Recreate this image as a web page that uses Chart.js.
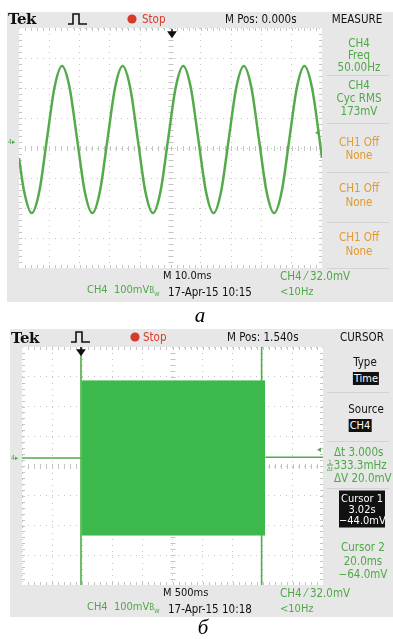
<!DOCTYPE html>
<html>
<head>
<meta charset="utf-8">
<script src="https://cdn.jsdelivr.net/npm/chart.js@4.4.1/dist/chart.umd.min.js"></script>
<style>
  body { margin: 0; width: 393px; height: 639px; background: #fff; position: relative; overflow: hidden;
         font-family: "DejaVu Sans Condensed", "Liberation Sans Narrow", "DejaVu Sans", sans-serif; font-stretch: condensed; }
  .panel { position: absolute; background: #e6e7e6; }
  .plot { position: absolute; background: #fff; }
  .t { position: absolute; white-space: nowrap; font-size: 11px; line-height: 12px; color: #111; }
  .sep { position: absolute; height: 1px; background: #d2d4d3; }
  .box { background: #111; color: #fff; padding: 0 1px; }
  .tek { font-family: "DejaVu Serif", "Liberation Serif", serif; font-weight: bold; font-size: 15px; font-stretch: normal; letter-spacing: -0.5px; }
  .cap { font-family: "Liberation Serif", "DejaVu Serif", serif; font-style: italic; font-size: 21px; font-stretch: normal; color: #000; }
  .frac { display: inline-block; vertical-align: middle; font-size: 6px; line-height: 6px; text-align: center; margin-right: 1px; }
  .frac span { display: block; }
  .frac span + span { border-top: 1px solid #4fa847; }
</style>
</head>
<body>
<div class="panel" style="left:7px;top:12px;width:386px;height:290px"></div>
<div class="panel" style="left:10px;top:329px;width:383px;height:288px"></div>
<canvas id="scopeA" class="plot" width="303" height="240" style="left:19px;top:28px"></canvas>
<canvas id="scopeB" class="plot" width="301" height="238" style="left:22px;top:347px"></canvas>
<svg id="icons" width="393" height="639" style="position:absolute;left:0;top:0;pointer-events:none"></svg>
<script>
// ---- (a) CH4 sine, 10 ms/div, 100 mV/div
const sineTimeMs = [0, 1.7, 4.2, 6.7, 9.2, 11.7, 14.2, 16.7, 19.2, 21.7, 24.2, 26.7, 29.2, 31.7,
  34.2, 36.7, 39.2, 41.7, 44.2, 46.7, 49.2, 51.7, 54.2, 56.7, 59.2, 61.7, 64.2, 66.7, 69.2, 71.7,
  74.2, 76.7, 79.2, 81.7, 84.2, 86.7, 89.2, 91.7, 94.2, 96.7, 99.2, 100];
const sineMv = [-33, -145, -217, -145, 28, 201, 273, 201, 28, -145, -217, -145, 28, 201,
  273, 201, 28, -145, -217, -145, 28, 201, 273, 201, 28, -145, -217, -145, 28, 201,
  273, 201, 28, -145, -217, -145, 28, 201, 273, 201, 28, -33];
const sineWindowMs = [0, 100];

// ---- (б) CH4 burst, 500 ms/div, time relative to trigger
const burstEdgesS = [0.03, 3.08];
const burstTopMv = [286, 286];
const burstBottomMv = [-232, -232];
const baselineBeforeS = [-0.96, 0.03];
const baselineBeforeMv = [27, 27];
const baselineAfterS = [3.08, 4.04];
const baselineAfterMv = [29, 29];
const cursorTimesS = [0.02, 3.02];
const burstWindowS = [-0.96, 4.04];

const screenMv = [-400, 400];   // 8 div x 100 mV

const GREEN = '#4fa847';
const TRACE = '#55ab4b';
const BURST = '#3db84c';
const CURSOR = '#48b045';
const ORANGE = '#e39a2e';
const RED = '#d63a2c';
const GRID = '#c4c4c4';

function pts(xs, ys) { return xs.map((x, i) => ({ x, y: ys[i] })); }

function divTicks(n) {
  return function (scale) {
    const step = (scale.max - scale.min) / n;
    scale.ticks = Array.from({ length: n + 1 }, (_, i) => ({ value: scale.min + i * step }));
  };
}

// minor graticule marks on centre lines and edges, 5 per division
const graticule = {
  id: 'graticule',
  beforeDatasetsDraw(chart) {
    const { ctx, chartArea: a } = chart;
    const cx = (a.left + a.right) / 2, cy = (a.top + a.bottom) / 2;
    const dx = (a.right - a.left) / 50, dy = (a.bottom - a.top) / 40;
    ctx.save();
    ctx.strokeStyle = GRID;
    ctx.lineWidth = 1;
    ctx.beginPath();
    for (let i = 1; i < 50; i++) {
      const x = Math.round(a.left + i * dx) + 0.5;
      ctx.moveTo(x, cy - 2); ctx.lineTo(x, cy + 3);
      ctx.moveTo(x, a.top); ctx.lineTo(x, a.top + 3);
      ctx.moveTo(x, a.bottom); ctx.lineTo(x, a.bottom - 3);
    }
    for (let j = 1; j < 40; j++) {
      const y = Math.round(a.top + j * dy) + 0.5;
      ctx.moveTo(cx - 2, y); ctx.lineTo(cx + 3, y);
      ctx.moveTo(a.left, y); ctx.lineTo(a.left + 3, y);
      ctx.moveTo(a.right, y); ctx.lineTo(a.right - 3, y);
    }
    ctx.stroke();
    ctx.restore();
  },
};

function scopeChart(canvas, xWin, datasets) {
  const axis = (n, lim) => ({
    type: 'linear', min: lim[0], max: lim[1],
    afterBuildTicks: divTicks(n),
    ticks: { display: false },
    grid: { color: GRID, lineWidth: 1, drawTicks: false },
    border: { display: false, dash: [1, 5] },
  });
  return new Chart(canvas, {
    type: 'line',
    data: { datasets },
    options: {
      responsive: false, animation: false, events: [],
      layout: { padding: 0 },
      plugins: { legend: { display: false }, tooltip: { enabled: false } },
      elements: { point: { radius: 0 } },
      scales: { x: axis(10, xWin), y: axis(8, screenMv) },
    },
    plugins: [graticule],
  });
}

scopeChart(document.getElementById('scopeA'), sineWindowMs, [
  { data: pts(sineTimeMs, sineMv), borderColor: TRACE, borderWidth: 2.5, cubicInterpolationMode: 'monotone' },
]);

// cursors first so the burst sits over them, like on the scope
scopeChart(document.getElementById('scopeB'), burstWindowS, [
  { data: pts(burstEdgesS, burstTopMv), borderColor: BURST, borderWidth: 1, order: 1 },
  { data: pts(burstEdgesS, burstBottomMv), borderColor: BURST, borderWidth: 1, fill: '-1', backgroundColor: BURST, order: 1 },
  { data: pts(baselineBeforeS, baselineBeforeMv), borderColor: TRACE, borderWidth: 1.5, order: 1 },
  { data: pts(baselineAfterS, baselineAfterMv), borderColor: TRACE, borderWidth: 1.5, order: 1 },
  { data: pts([cursorTimesS[0], cursorTimesS[0]], screenMv), borderColor: CURSOR, borderWidth: 1.6, order: 2 },
  { data: pts([cursorTimesS[1], cursorTimesS[1]], screenMv), borderColor: CURSOR, borderWidth: 1.6, order: 2 },
]);

// ---- screen text
function put(html, x, y, o) {
  o = o || {};
  const el = document.createElement('div');
  el.className = 't' + (o.cls ? ' ' + o.cls : '');
  el.innerHTML = html;
  el.style.left = x + 'px';
  el.style.top = y + 'px';
  if (o.color) el.style.color = o.color;
  if (o.size) el.style.fontSize = o.size + 'px';
  el.style.transform = o.center ? 'translate(-50%,-50%)' : 'translateY(-50%)';
  document.body.appendChild(el);
  return el;
}
function sep(x, y, w) {
  const el = document.createElement('div');
  el.className = 'sep';
  el.style.left = x + 'px'; el.style.top = y + 'px'; el.style.width = w + 'px';
  document.body.appendChild(el);
}

const svg = document.getElementById('icons');
function icon(markup) { svg.insertAdjacentHTML('beforeend', markup); }
function header(dy, xs) {
  icon(`<polyline points="${xs.pulse},${dy + 24} ${xs.pulse + 5},${dy + 24} ${xs.pulse + 5},${dy + 14} ${xs.pulse + 11},${dy + 14} ${xs.pulse + 11},${dy + 24} ${xs.pulse + 19},${dy + 24}" fill="none" stroke="#111" stroke-width="1.6"/>`);
  icon(`<circle cx="${xs.dot}" cy="${dy + 19}" r="4.6" fill="${RED}"/>`);
  icon(`<path d="M${xs.trig} ${dy + 29} V${dy + 36} M${xs.trig - 3.5} ${dy + 32} L${xs.trig} ${dy + 37} L${xs.trig + 3.5} ${dy + 32} Z" stroke="#111" stroke-width="1.4" fill="#111"/>`);
}
function footer(dy, time, stamp) {
  put(time, 163, dy + 276);
  put('CH4 &#8260; 32.0mV', 280, dy + 276, { color: GREEN, size: 11.5 });
  put('CH4&nbsp; 100mV<span style="font-size:8px">B<sub style="font-size:6px">W</sub></span>', 87, dy + 292, { color: GREEN });
  put(stamp, 168, dy + 292, { size: 11.5 });
  put('&lt;10Hz', 280, dy + 292, { color: GREEN });
}

// (a)
put('Tek', 8, 19, { cls: 'tek' });
header(0, { pulse: 68, dot: 132, trig: 172 });
put('Stop', 142, 19, { color: RED, size: 11.5 });
put('M Pos: 0.000s', 225, 19, { size: 11.5 });
put('MEASURE', 357, 19, { center: true, size: 11.5 });
[['CH4', 43], ['Freq', 55], ['50.00Hz', 67], ['CH4', 85], ['Cyc RMS', 98], ['173mV', 111]]
  .forEach(([s, y]) => put(s, 359, y, { center: true, color: GREEN, size: 11.5 }));
[['CH1 Off', 142], ['None', 155], ['CH1 Off', 188], ['None', 202], ['CH1 Off', 237], ['None', 251]]
  .forEach(([s, y]) => put(s, 359, y, { center: true, color: ORANGE, size: 11.5 }));
[75, 123, 172, 222, 268].forEach(y => sep(327, y, 62));
put('4&#9656;', 8, 142, { color: GREEN, size: 7 });
put('&#9666;', 315, 132, { color: GREEN, size: 9 });
footer(0, 'M 10.0ms', '17-Apr-15 10:15');
put('a', 200, 315, { cls: 'cap', center: true });

// (б)
put('Tek', 11, 338, { cls: 'tek' });
header(318, { pulse: 71, dot: 135, trig: 81 });
put('Stop', 143, 337, { color: RED, size: 11.5 });
put('M Pos: 1.540s', 227, 337, { size: 11.5 });
put('CURSOR', 362, 337, { center: true, size: 11.5 });
put('Type', 365, 362, { center: true, size: 11.5 });
put('<span class="box">Time</span>', 366, 379, { center: true, size: 11 });
put('Source', 366, 409, { center: true, size: 11.5 });
put('<span class="box">CH4</span>', 360, 426, { center: true, size: 11 });
[392, 441, 488].forEach(y => sep(327, y, 62));
put('&#916;t 3.000s', 334, 452, { color: GREEN, size: 11.5 });
put('<span class="frac"><span>1</span><span>&#916;t</span></span>333.3mHz', 327, 465, { color: GREEN, size: 11.5 });
put('&#916;V 20.0mV', 334, 478, { color: GREEN, size: 11.5 });
put('<div style="background:#111;color:#fff;text-align:center;width:46px;line-height:11px;padding:2px 0">Cursor 1<br>3.02s<br>&#8722;44.0mV</div>', 362, 509, { center: true, size: 11 });
[['Cursor 2', 547], ['20.0ms', 561], ['&#8722;64.0mV', 574]]
  .forEach(([s, y]) => put(s, 363, y, { center: true, color: GREEN, size: 11.5 }));
put('4&#9656;', 11, 458, { color: GREEN, size: 7 });
put('&#9666;', 317, 449, { color: GREEN, size: 9 });
footer(317, 'M 500ms', '17-Apr-15 10:18');
put('б', 203, 627, { cls: 'cap', center: true });
</script>
</body>
</html>
